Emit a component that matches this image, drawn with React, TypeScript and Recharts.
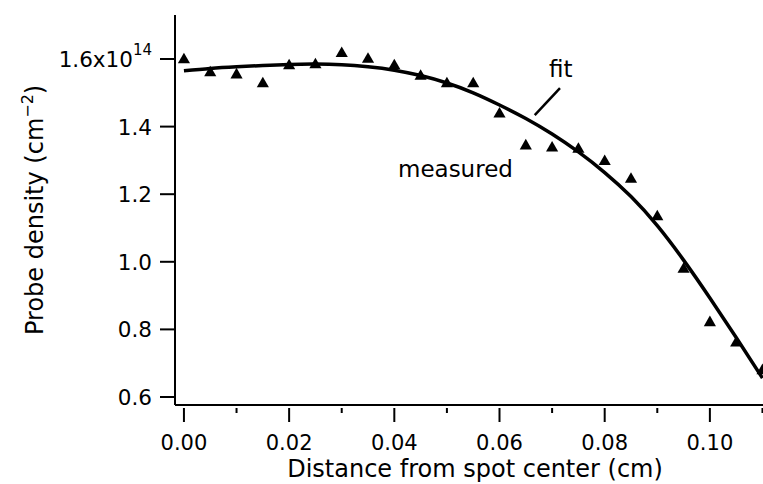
import React from "react";
import {
  ComposedChart,
  XAxis,
  YAxis,
  Line,
  Scatter,
  ReferenceLine,
  ReferenceDot,
} from "recharts";

// Distance from spot center (cm)
const distance = [
  0, 0.005, 0.01, 0.015, 0.02, 0.025, 0.03, 0.035, 0.04, 0.045, 0.05, 0.055,
  0.06, 0.065, 0.07, 0.075, 0.08, 0.085, 0.09, 0.095, 0.1, 0.105, 0.11,
];
// Measured probe density (x10^14 cm^-2)
const measured = [
  1.598, 1.559, 1.553, 1.527, 1.58, 1.583, 1.616, 1.599, 1.58, 1.549, 1.527,
  1.527, 1.437, 1.343, 1.337, 1.333, 1.297, 1.244, 1.133, 0.978, 0.82, 0.76,
  0.678,
];
// Fit curve (x10^14 cm^-2)
const fitValues = [
  1.565, 1.572, 1.577, 1.581, 1.584, 1.585, 1.583, 1.577, 1.567, 1.551, 1.529,
  1.5, 1.464, 1.424, 1.378, 1.325, 1.264, 1.193, 1.107, 1.005, 0.893, 0.776,
  0.656,
];
const xTicks = [0, 0.01, 0.02, 0.03, 0.04, 0.05, 0.06, 0.07, 0.08, 0.09, 0.1, 0.11];
const yTicks = [0.6, 0.8, 1.0, 1.2, 1.4, 1.6];

const xDomain = [-0.0017, 0.1101];
const yDomain = [0.5763, 1.7302];

// annotation anchors (data coordinates)
const fitLeader = [
  { x: 0.0667, y: 1.434 },
  { x: 0.0715, y: 1.514 },
];
const fitLabelPos = { x: 0.0694, y: 1.547 };
const measuredLabelPos = { x: 0.0407, y: 1.251 };

const FONT = "DejaVu Sans";

const fitData = distance.map((d, i) => ({ x: d, fit: fitValues[i] }));
const measuredData = distance.map((d, i) => ({ x: d, y: measured[i] }));

const XTick = (props: any) => {
  const { x, y, payload } = props;
  const v = payload.value;
  const major = Math.round(v * 100) % 2 === 0;
  return (
    <g>
      <line x1={x} x2={x} y1={y + 3} y2={y + (major ? 17 : 8)} stroke="#000" strokeWidth={2} />
      {major && (
        <text x={x} y={y + 45} textAnchor="middle" fontFamily={FONT} fontSize={21} fill="#000">
          {v.toFixed(2)}
        </text>
      )}
    </g>
  );
};

const YTick = (props: any) => {
  const { x, y, payload } = props;
  const v = payload.value;
  const top = Math.abs(v - 1.6) < 1e-6;
  return (
    <g>
      <line x1={x - 15} x2={x} y1={y} y2={y} stroke="#000" strokeWidth={2} />
      <text x={x - 23} y={y + 8} textAnchor="end" fontFamily={FONT} fontSize={21.5} fill="#000">
        {top ? (
          <>
            <tspan>1.6x10</tspan>
            <tspan dy={-12} fontSize={15}>14</tspan>
          </>
        ) : (
          v.toFixed(1)
        )}
      </text>
    </g>
  );
};

const YTitle = () => (
  <text
    transform="rotate(-90 43 335)"
    x={43}
    y={335}
    textAnchor="start"
    fontFamily={FONT}
    fontSize={24}
    fill="#000"
  >
    <tspan>Probe density (cm</tspan>
    <tspan dy={-10} fontSize={16}>−2</tspan>
    <tspan dy={10}>)</tspan>
  </text>
);

const XTitle = () => (
  <text x={475} y={477} textAnchor="middle" fontFamily={FONT} fontSize={24} fill="#000">
    Distance from spot center (cm)
  </text>
);

const textAt = (label: string) => (p: any) => {
  const vb = p.viewBox || {};
  return (
    <text x={vb.x} y={vb.y} textAnchor="start" fontFamily={FONT} fontSize={23} fill="#000">
      {label}
    </text>
  );
};

export default function App() {
  return (
    <div style={{ position: "absolute", left: 0, top: 0, background: "#fff" }}>
      <ComposedChart
        width={763}
        height={484}
        data={fitData}
        margin={{ top: 15, right: 0, bottom: 0, left: 0 }}
        style={{ fontFamily: FONT }}
      >
        <XAxis
          dataKey="x"
          type="number"
          domain={xDomain}
          allowDataOverflow
          ticks={xTicks}
          interval={0}
          height={79}
          tickSize={0}
          tickMargin={0}
          tickLine={false}
          axisLine={{ stroke: "#000", strokeWidth: 2 }}
          tick={<XTick />}
          label={<XTitle />}
        />
        <XAxis
          xAxisId="top"
          orientation="top"
          dataKey="x"
          type="number"
          domain={xDomain}
          allowDataOverflow
          height={0}
          tick={false}
          tickLine={false}
          axisLine={{ stroke: "#000", strokeWidth: 2 }}
        />
        <YAxis
          type="number"
          domain={yDomain}
          allowDataOverflow
          ticks={yTicks}
          interval={0}
          width={175}
          tickSize={0}
          tickMargin={0}
          tickLine={false}
          axisLine={{ stroke: "#000", strokeWidth: 2 }}
          tick={<YTick />}
          label={<YTitle />}
        />
        <Line
          dataKey="fit"
          type="natural"
          stroke="#000"
          strokeWidth={3.5}
          dot={false}
          activeDot={false}
          isAnimationActive={false}
        />
        <Scatter
          data={measuredData}
          dataKey="y"
          shape="triangle"
          fill="#000"
          isAnimationActive={false}
        />
        <ReferenceLine
          segment={fitLeader}
          stroke="#000"
          strokeWidth={2.5}
          ifOverflow="visible"
        />
        <ReferenceDot
          x={fitLabelPos.x}
          y={fitLabelPos.y}
          r={0}
          fill="none"
          stroke="none"
          label={textAt("fit")}
        />
        <ReferenceDot
          x={measuredLabelPos.x}
          y={measuredLabelPos.y}
          r={0}
          fill="none"
          stroke="none"
          label={textAt("measured")}
        />
      </ComposedChart>
    </div>
  );
}
